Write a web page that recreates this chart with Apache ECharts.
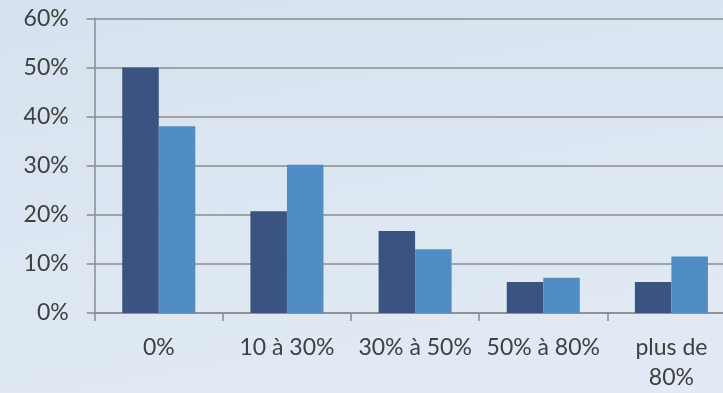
<!DOCTYPE html>
<html><head><meta charset="utf-8">
<script src="https://cdn.jsdelivr.net/npm/echarts@6/dist/echarts.min.js"></script>
<style>html,body{margin:0;padding:0;overflow:hidden;width:723px;height:393px;background:#dde7f2;}#c{width:736px;height:393px;background:linear-gradient(170deg,#d5e2ef 0%,#dde7f2 55%,#e2ebf5 100%);}</style>
</head><body><div id="c"></div>
<script>
const categories = ['0%', '10 à 30%', '30% à 50%', '50% à 80%', 'plus de\n80%'];
const seriesA = [50, 20.7, 16.7, 6.3, 6.3];
const seriesB = [38, 30.2, 13.0, 7.2, 11.5];
const yTicks = [0, 10, 20, 30, 40, 50, 60];

const chart = echarts.init(document.getElementById('c'), null, {renderer: 'canvas'});
const font = 'Lato';
chart.setOption({
  backgroundColor: 'transparent',
  animation: false,
  grid: {left: 94.7, right: 0.5, top: 18.3, bottom: 79.7, containLabel: false},
  xAxis: {
    type: 'category', data: categories,
    axisLine: {show: true, lineStyle: {color: '#8c8c8c', width: 1.5}},
    axisTick: {show: true, length: 8, lineStyle: {color: '#8c8c8c', width: 1.5}},
    axisLabel: {color: '#404040', fontSize: 23, fontFamily: font, margin: 20, lineHeight: 30, interval: 0}
  },
  yAxis: {
    type: 'value', min: 0, max: 60, interval: 10,
    axisLine: {show: true, lineStyle: {color: '#8c8c8c', width: 1.5}},
    axisTick: {show: true, length: 8, lineStyle: {color: '#8c8c8c', width: 1.5}},
    splitLine: {show: true, lineStyle: {color: '#8c8c8c', width: 1.5}},
    axisLabel: {color: '#404040', fontSize: 23, fontFamily: font, margin: 26,
      formatter: v => yTicks.includes(v) ? v + '%' : ''}
  },
  series: [
    {type: 'bar', data: seriesA, barGap: '0%', barCategoryGap: '43%',
     itemStyle: {color: '#3a5380'}},
    {type: 'bar', data: seriesB, barGap: '0%', barCategoryGap: '43%',
     itemStyle: {color: '#4f8dc4'}}
  ]
});
</script></body></html>
